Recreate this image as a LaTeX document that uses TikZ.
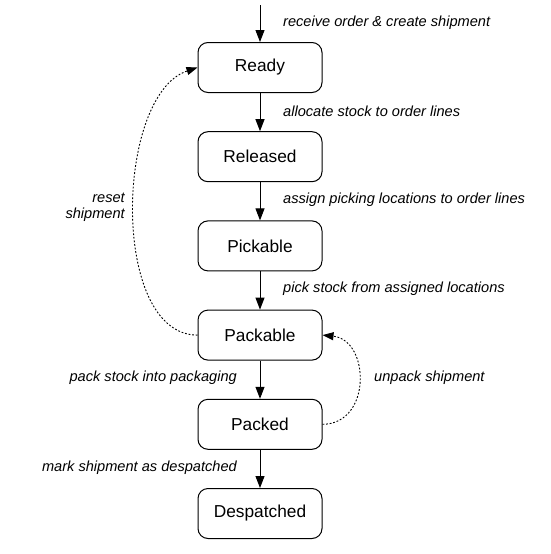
\documentclass[tikz,border=0pt]{standalone}
\usepackage{fontspec}
\setmainfont{Liberation Sans}
\usetikzlibrary{arrows.meta}
\begin{document}
\begin{tikzpicture}[x=1pt,y=-1pt,
  state/.style={draw, fill=white, rounded corners=10pt, minimum width=124pt, minimum height=50pt, line width=1pt, font=\fontsize{17.3}{20}\selectfont, inner sep=0pt},
  lbl/.style={font=\fontsize{14.6}{16}\selectfont\itshape, inner sep=0pt},
  flow/.style={-{Triangle[length=12pt,width=9pt]}, line width=1pt},
  back/.style={-{Triangle[length=11pt,width=8pt]}, line width=0.9pt, dash pattern=on 1.8pt off 1.8pt}]
\useasboundingbox (0,0) rectangle (550,554);

\node[state] (ready) at (260,67.5) {Ready};
\node[state] (released) at (260,156.7) {Released};
\node[state] (pickable) at (260,245.9) {Pickable};
\node[state] (packable) at (260,335.1) {Packable};
\node[state] (packed) at (260,424.3) {Packed};
\node[state] (despatched) at (260,513.5) {Despatched};

\coordinate (start) at (260,5);

\draw[flow] (start) -- (ready);
\draw[flow] (ready) -- (released);
\draw[flow] (released) -- (pickable);
\draw[flow] (pickable) -- (packable);
\draw[flow] (packable) -- (packed);
\draw[flow] (packed) -- (despatched);

\draw[back] (packable.west) .. controls (110,335) and (115,95) .. (ready.west);
\draw[back] (packed.east) .. controls (372,424) and (370,340) .. (packable.east);

\node[lbl, anchor=west] (l1) at (283,23) {receive order \& create shipment};
\node[lbl, anchor=west] (l2) at (283,111) {allocate stock to order lines};
\node[lbl, anchor=west] (l3) at (283,199.5) {assign picking locations to order lines};
\node[lbl, anchor=west] (l4) at (283,288.5) {pick stock from assigned locations};
\node[lbl, anchor=east] (l5) at (237,378) {pack stock into packaging};
\node[lbl, anchor=east] (l6) at (237,468) {mark shipment as despatched};
\node[lbl, anchor=west] (l7) at (374,378) {unpack shipment};
\node[lbl, anchor=east, align=right] (l8) at (125,207) {reset\\shipment};
\end{tikzpicture}
\end{document}
